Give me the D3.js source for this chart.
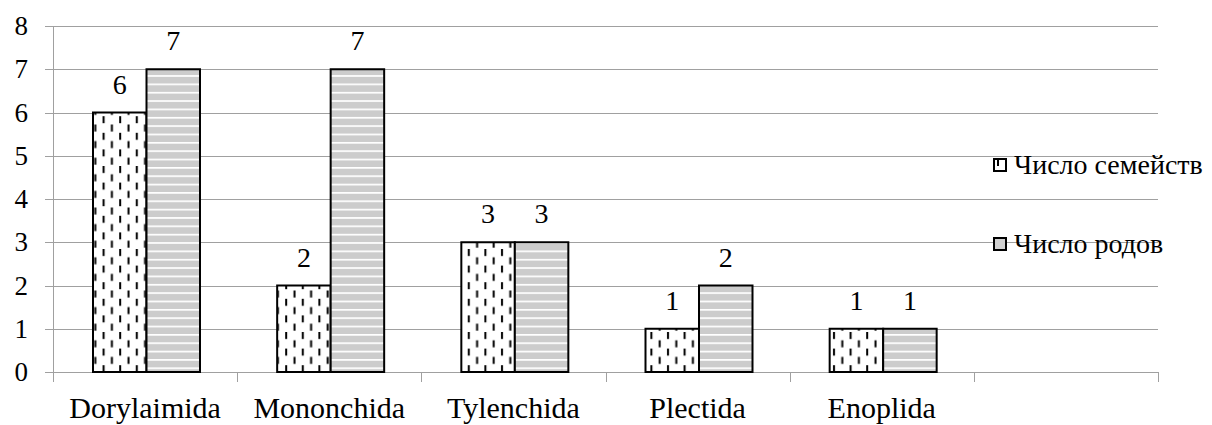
<!DOCTYPE html>
<html>
<head>
<meta charset="utf-8">
<script src="https://cdn.jsdelivr.net/npm/d3@7/dist/d3.min.js"></script>
</head>
<body>
<svg id="chart" width="1212" height="425"></svg>
<script>
// Orders of nematodes: number of families and genera
const categories = ["Dorylaimida", "Mononchida", "Tylenchida", "Plectida", "Enoplida"];
const families = [6, 2, 3, 1, 1];
const genera = [7, 7, 3, 2, 1];
const seriesNames = ["Число семейств", "Число родов"];
const yTicks = [0, 1, 2, 3, 4, 5, 6, 7, 8];

d3.select("body").style("margin", "0px").style("background", "#fff");
d3.select("#chart").style("display", "block");

const svg = d3.select("#chart");
const plotLeft = 53, plotRight = 1158, plotTop = 26, plotBottom = 372;

// Six slots on the category axis, the last one left empty
const slots = categories.concat([""]);
const x = d3.scaleBand().domain(d3.range(slots.length)).range([plotLeft, plotRight]).paddingInner(0).paddingOuter(0);
const y = d3.scaleLinear().domain([0, 8]).range([plotBottom, plotTop]);

// Fill patterns
const defs = svg.append("defs");
const pw = 16.6, ph = 16.6;
const pDash = defs.append("pattern").attr("id", "dashes")
  .attr("patternUnits", "userSpaceOnUse").attr("width", pw).attr("height", ph);
pDash.append("rect").attr("width", pw).attr("height", ph).attr("fill", "#fff");
pDash.append("rect").attr("x", 3).attr("y", 0).attr("width", 2).attr("height", 7).attr("fill", "#000");
pDash.append("rect").attr("x", 3 + pw / 2).attr("y", ph / 2).attr("width", 2).attr("height", 7).attr("fill", "#000");

const pStripe = defs.append("pattern").attr("id", "stripes")
  .attr("patternUnits", "userSpaceOnUse").attr("width", 10).attr("height", 8.35);
pStripe.append("rect").attr("width", 10).attr("height", 8.35).attr("fill", "#cccccc");
pStripe.append("rect").attr("y", 0).attr("width", 10).attr("height", 1.7).attr("fill", "#fff");

// Gridlines and y tick marks
svg.selectAll("line.grid").data(yTicks).join("line").attr("class", "grid")
  .attr("x1", plotLeft - 8).attr("x2", plotRight)
  .attr("y1", d => Math.round(y(d)) + 0.5).attr("y2", d => Math.round(y(d)) + 0.5)
  .attr("stroke", "#a0a0a0").attr("stroke-width", 1);

// Vertical axis line
svg.append("line").attr("x1", plotLeft + 0.5).attr("x2", plotLeft + 0.5)
  .attr("y1", plotTop).attr("y2", plotBottom + 10)
  .attr("stroke", "#a0a0a0");

// Category boundary ticks
svg.selectAll("line.xtick").data(d3.range(slots.length + 1)).join("line").attr("class", "xtick")
  .attr("x1", d => Math.round(plotLeft + d * x.bandwidth()) + 0.5)
  .attr("x2", d => Math.round(plotLeft + d * x.bandwidth()) + 0.5)
  .attr("y1", plotBottom).attr("y2", plotBottom + 10)
  .attr("stroke", "#a0a0a0");

// Bars
const barW = 53.5;
const offset = 40;
const series = [
  { key: "fam", values: families, fill: "url(#dashes)" },
  { key: "gen", values: genera, fill: "url(#stripes)" }
];
series.forEach((s, si) => {
  svg.selectAll("rect.bar-" + s.key).data(s.values).join("rect").attr("class", "bar-" + s.key)
    .attr("x", (d, i) => x(i) + offset + si * barW)
    .attr("y", d => y(d))
    .attr("width", barW)
    .attr("height", d => y(0) - y(d))
    .attr("fill", s.fill)
    .attr("stroke", "#000").attr("stroke-width", 2);
});

// All text items: tick labels, value labels, category labels, legend
const texts = [];
yTicks.forEach(d => texts.push({ t: String(d), x: 28, y: y(d) + 9, size: 27, anchor: "end" }));
series.forEach((s, si) => s.values.forEach((d, i) =>
  texts.push({ t: String(d), x: x(i) + offset + si * barW + barW / 2, y: y(d) - 19, size: 28, anchor: "middle" })));
categories.forEach((c, i) =>
  texts.push({ t: c, x: x(i) + x.bandwidth() / 2, y: 418, size: 30, anchor: "middle" }));

const legendY = [165, 244];
seriesNames.forEach((name, i) => {
  svg.append("rect").attr("x", 994).attr("y", legendY[i] - 6).attr("width", 12).attr("height", 12)
    .attr("fill", i === 0 ? "#fff" : "#d0d0d0").attr("stroke", "#000").attr("stroke-width", 2);
  if (i === 0) {
    svg.append("rect").attr("x", 997).attr("y", legendY[i] - 5).attr("width", 2).attr("height", 6).attr("fill", "#000");
  }
  texts.push({ t: name, x: 1014, y: legendY[i] + 9, size: 28, anchor: "start" });
});

svg.selectAll("text").data(texts).join("text")
  .attr("x", d => d.x).attr("y", d => d.y)
  .attr("text-anchor", d => d.anchor)
  .style("font", d => `${d.size}px Tinos, "Liberation Serif", "Times New Roman", FreeSerif, serif`)
  .attr("fill", "#000")
  .text(d => d.t);
</script>
</body>
</html>
